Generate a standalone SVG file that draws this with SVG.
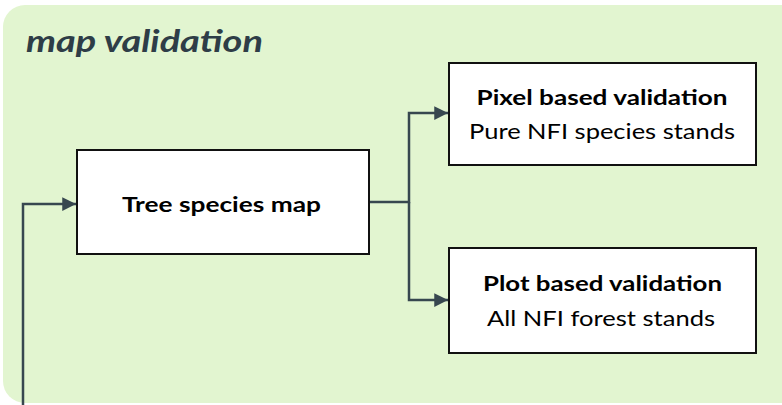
<svg xmlns="http://www.w3.org/2000/svg" width="782" height="405" viewBox="0 0 782 405">
  <defs>
    <marker id="arr" viewBox="0 0 10 10" refX="10" refY="5" markerWidth="6" markerHeight="5.5" markerUnits="strokeWidth" orient="auto">
      <path d="M0,0 L10,5 L0,10 z" fill="#37474f"/>
    </marker>
    <style>
      .box { fill: #ffffff; stroke: #111111; stroke-width: 2; }
      .conn { fill: none; stroke: #37474f; stroke-width: 2.5; }
      .b { font-family: Lato, "Liberation Sans", sans-serif; font-weight: bold; font-size: 21px; fill: #000; text-anchor: middle; }
      .n { font-family: Lato, "Liberation Sans", sans-serif; font-size: 21px; fill: #000; text-anchor: middle; }
      .title { font-family: Lato, "Liberation Sans", sans-serif; font-weight: bold; font-style: italic; font-size: 30px; fill: #2e3d47; }
    </style>
  </defs>
  <rect width="782" height="405" fill="#ffffff"/>
  <rect id="background" x="3" y="5" width="820" height="398" rx="22" ry="22" fill="#e2f5d0"/>
  <text class="title" x="26" y="52" textLength="237" lengthAdjust="spacingAndGlyphs">map validation</text>

  <g id="connectors">
    <path class="conn" d="M23,405 L23,204 L76,204" marker-end="url(#arr)"/>
    <path class="conn" d="M369,202 L409,202 L409,113 L448,113" marker-end="url(#arr)"/>
    <path class="conn" d="M409,202 L409,300 L448,300" marker-end="url(#arr)"/>
  </g>

  <g id="tree-species-map">
    <rect class="box" x="77" y="150" width="292" height="104"/>
    <text class="b" x="221.5" y="212" textLength="199" lengthAdjust="spacingAndGlyphs">Tree species map</text>
  </g>

  <g id="pixel-based-validation">
    <rect class="box" x="449" y="63" width="307" height="102"/>
    <text class="b" x="602" y="105" textLength="251" lengthAdjust="spacingAndGlyphs">Pixel based validation</text>
    <text class="n" x="602" y="139" textLength="266" lengthAdjust="spacingAndGlyphs">Pure NFI species stands</text>
  </g>

  <g id="plot-based-validation">
    <rect class="box" x="449" y="248" width="307" height="105"/>
    <text class="b" x="602.5" y="291" textLength="239" lengthAdjust="spacingAndGlyphs">Plot based validation</text>
    <text class="n" x="601" y="326" textLength="228" lengthAdjust="spacingAndGlyphs">All NFI forest stands</text>
  </g>
</svg>
